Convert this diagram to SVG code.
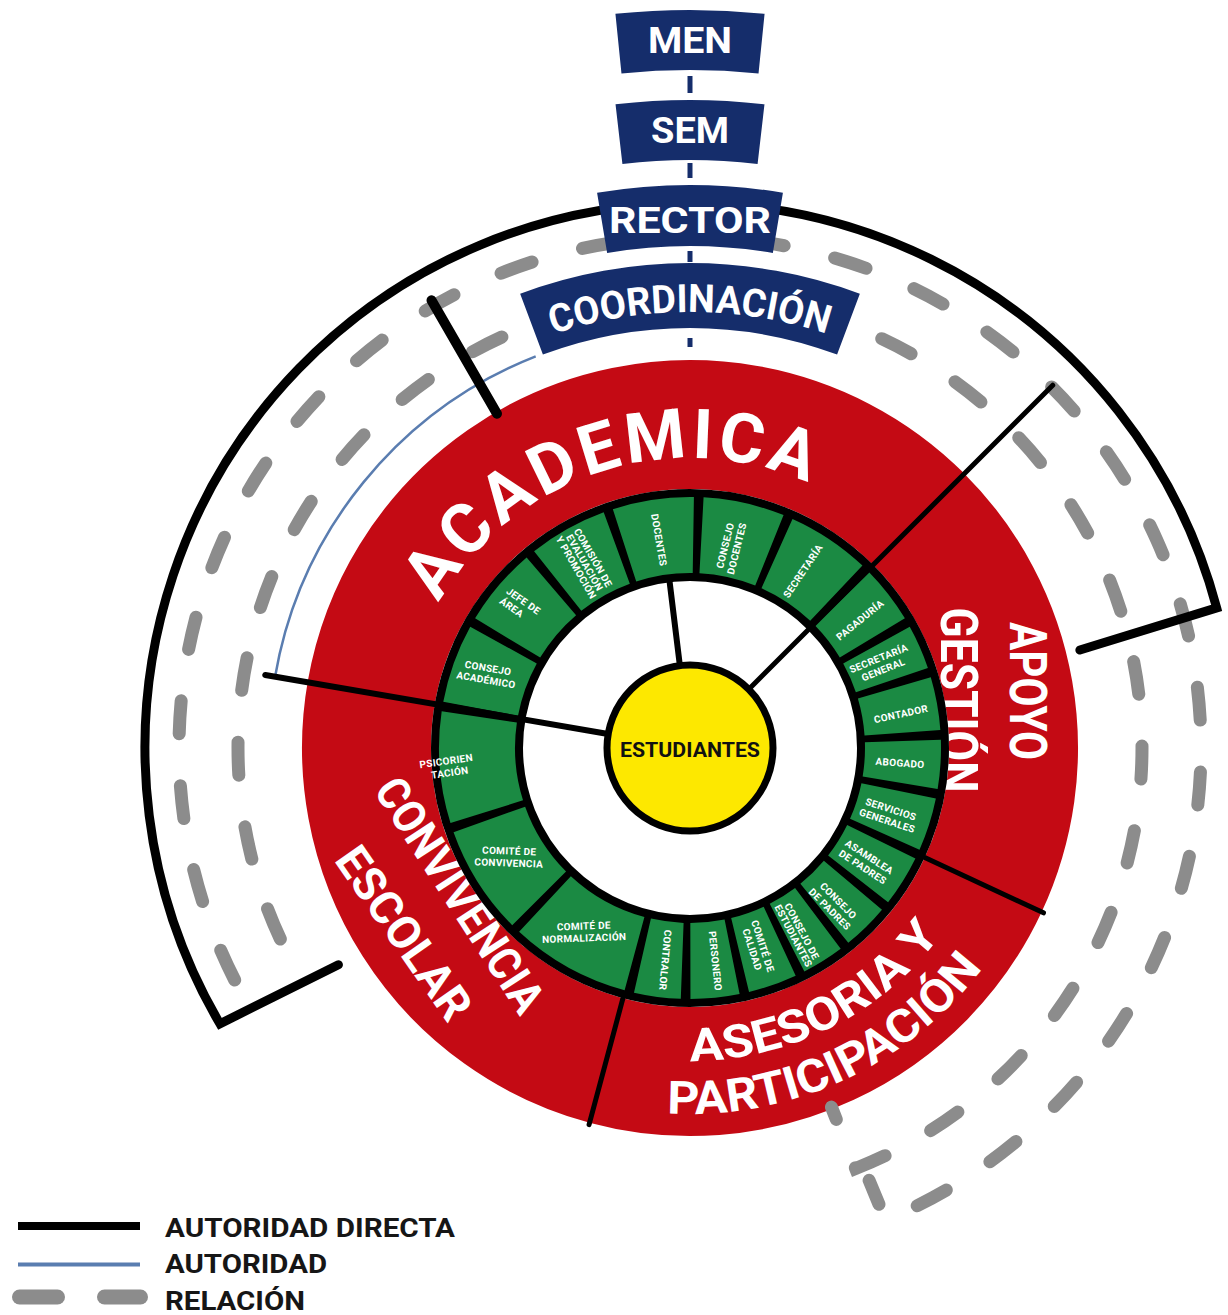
<svg xmlns="http://www.w3.org/2000/svg" xmlns:xlink="http://www.w3.org/1999/xlink" width="1228" height="1315" viewBox="0 0 1228 1315">
<style>
.t{font-family:Roboto,"DejaVu Sans","Liberation Sans",sans-serif;font-weight:700}
.rs{fill:none;stroke:#c40a14;stroke-width:129}
.gc{fill:none;stroke:#1b8a43;stroke-width:76}
.ct{fill:#fff;font-size:10px;text-anchor:middle;letter-spacing:0.3px}
.big{fill:#fff}
.box{fill:#152d6b}
.bt{fill:#fff;font-size:37px;text-anchor:middle}
.dash{fill:none;stroke:#8c8c8c;stroke-width:13;stroke-linecap:round;stroke-dasharray:33 52}
.dir{fill:none;stroke:#000;stroke-linecap:round}
.nv{stroke:#152d6b;stroke-width:5}
.lg{fill:#161616;font-size:25px}
</style>
<defs>
<path id="pAcad" d="M438.85 603 A290 290 0 0 1 807.95 483.07"/>
<path id="pAses" d="M690 1061 A313 313 0 0 0 943.22 931.98"/>
<path id="pPart" d="M667.02 1113.28 A366 366 0 0 0 984.59 965.19"/>
<path id="pCoord" d="M553.10 334.05 A436 436 0 0 1 826.90 334.05"/>
</defs>
<rect width="1228" height="1315" fill="#fff"/>

<g id="academica">
<circle class="rs" cx="690" cy="748" r="323.5" transform="rotate(-170 690 748)" stroke-dasharray="705.76 3000"/>
<text class="t big" font-size="69"><textPath href="#pAcad" textLength="425" lengthAdjust="spacing">ACADEMICA</textPath></text>
</g>
<g id="apoyo-gestion">
<circle class="rs" cx="690" cy="748" r="323.5" transform="rotate(-45 690 748)" stroke-dasharray="395.23 3000"/>
<text class="t big" font-size="52" text-anchor="middle" transform="translate(1028 691) rotate(90)" y="18.5" textLength="138" lengthAdjust="spacingAndGlyphs">APOYO</text>
<text class="t big" font-size="52" text-anchor="middle" transform="translate(959 700) rotate(90)" y="18.5" textLength="185" lengthAdjust="spacingAndGlyphs">GESTIÓN</text>
</g>
<g id="asesoria-participacion">
<circle class="rs" cx="690" cy="748" r="323.5" transform="rotate(25 690 748)" stroke-dasharray="451.69 3000"/>
<text class="t big" font-size="46"><textPath href="#pAses" textLength="290" lengthAdjust="spacingAndGlyphs">ASESORIA Y</textPath></text>
<text class="t big" font-size="46"><textPath href="#pPart" textLength="362" lengthAdjust="spacingAndGlyphs">PARTICIPACIÓN</textPath></text>
</g>
<g id="convivencia-escolar">
<circle class="rs" cx="690" cy="748" r="323.5" transform="rotate(105 690 748)" stroke-dasharray="479.92 3000"/>
<text class="t big" font-size="46" text-anchor="middle" transform="translate(460 895) rotate(57)" y="16" textLength="270" lengthAdjust="spacingAndGlyphs">CONVIVENCIA</text>
<text class="t big" font-size="46" text-anchor="middle" transform="translate(404 933) rotate(55)" y="16" textLength="200" lengthAdjust="spacingAndGlyphs">ESCOLAR</text>
</g>

<g id="green-ring-frame">
<circle cx="690" cy="748" r="213" fill="none" stroke="#000" stroke-width="92"/>
</g>

<g id="c-consejo-academico">
<circle class="gc" cx="690" cy="748" r="213" transform="rotate(-169.4 690 748)" stroke-dasharray="68.03 2000"/>
<text class="t ct" transform="translate(487 674) rotate(10)"><tspan x="0" y="-2.5">CONSEJO</tspan><tspan x="0" y="9.5">ACADÉMICO</tspan></text>
</g>
<g id="c-jefe-area">
<circle class="gc" cx="690" cy="748" r="213" transform="rotate(-148.9 690 748)" stroke-dasharray="68.03 2000"/>
<text class="t ct" transform="translate(520 606) rotate(35)"><tspan x="0" y="-2.5">JEFE DE</tspan><tspan x="-6" y="9.5">ÁREA</tspan></text>
</g>
<g id="c-comision">
<circle class="gc" cx="690" cy="748" r="213" transform="rotate(-128.4 690 748)" stroke-dasharray="68.03 2000"/>
<text class="t ct" font-size="8" transform="translate(584 563) rotate(60)"><tspan x="0" y="-7">COMISIÓN DE</tspan><tspan x="0" y="2.8">EVALUACIÓN</tspan><tspan x="0" y="12.6">Y PROMOCIÓN</tspan></text>
</g>
<g id="c-docentes">
<circle class="gc" cx="690" cy="748" r="213" transform="rotate(-107.9 690 748)" stroke-dasharray="69.89 2000"/>
<text class="t ct" transform="translate(659 540) rotate(80)" y="3.5">DOCENTES</text>
</g>
<g id="c-consejo-docentes">
<circle class="gc" cx="690" cy="748" r="213" transform="rotate(-86.9 690 748)" stroke-dasharray="69.89 2000"/>
<text class="t ct" transform="translate(731 547) rotate(-76)"><tspan x="0" y="-2.5">CONSEJO</tspan><tspan x="0" y="9.5">DOCENTES</tspan></text>
</g>
<g id="c-secretaria">
<circle class="gc" cx="690" cy="748" r="213" transform="rotate(-65.9 690 748)" stroke-dasharray="71.75 2000"/>
<text class="t ct" transform="translate(803 571) rotate(-56)" y="3.5">SECRETARÍA</text>
</g>
<g id="c-pagaduria">
<circle class="gc" cx="690" cy="748" r="213" transform="rotate(-44.4 690 748)" stroke-dasharray="49.44 2000"/>
<text class="t ct" transform="translate(860 620) rotate(-39)" y="3.5">PAGADURÍA</text>
</g>
<g id="c-secretaria-general">
<circle class="gc" cx="690" cy="748" r="213" transform="rotate(-28.9 690 748)" stroke-dasharray="38.29 2000"/>
<text class="t ct" transform="translate(881 664) rotate(-22)"><tspan x="0" y="-2.5">SECRETARÍA</tspan><tspan x="0" y="9.5">GENERAL</tspan></text>
</g>
<g id="c-contador">
<circle class="gc" cx="690" cy="748" r="213" transform="rotate(-16.4 690 748)" stroke-dasharray="45.73 2000"/>
<text class="t ct" transform="translate(901 714) rotate(-12)" y="3.5">CONTADOR</text>
</g>
<g id="c-abogado">
<circle class="gc" cx="690" cy="748" r="213" transform="rotate(-1.9 690 748)" stroke-dasharray="42.01 2000"/>
<text class="t ct" transform="translate(900 763) rotate(4)" y="3.5">ABOGADO</text>
</g>
<g id="c-servicios-generales">
<circle class="gc" cx="690" cy="748" r="213" transform="rotate(11.6 690 748)" stroke-dasharray="45.73 2000"/>
<text class="t ct" transform="translate(889 815) rotate(18)"><tspan x="0" y="-2.5">SERVICIOS</tspan><tspan x="0" y="9.5">GENERALES</tspan></text>
</g>
<g id="c-asamblea-padres">
<circle class="gc" cx="690" cy="748" r="213" transform="rotate(26.1 690 748)" stroke-dasharray="43.87 2000"/>
<text class="t ct" transform="translate(866 862) rotate(33)"><tspan x="0" y="-2.5">ASAMBLEA</tspan><tspan x="0" y="9.5">DE PADRES</tspan></text>
</g>
<g id="c-consejo-padres">
<circle class="gc" cx="690" cy="748" r="213" transform="rotate(40.1 690 748)" stroke-dasharray="40.15 2000"/>
<text class="t ct" transform="translate(834 905) rotate(45)"><tspan x="0" y="-2.5">CONSEJO</tspan><tspan x="0" y="9.5">DE PADRES</tspan></text>
</g>
<g id="c-consejo-estudiantes">
<circle class="gc" cx="690" cy="748" r="213" transform="rotate(53.1 690 748)" stroke-dasharray="36.43 2000"/>
<text class="t ct" font-size="7.5" transform="translate(797 934) rotate(62)"><tspan x="0" y="-2">CONSEJO DE</tspan><tspan x="0" y="7.5">ESTUDIANTES</tspan></text>
</g>
<g id="c-comite-calidad">
<circle class="gc" cx="690" cy="748" r="213" transform="rotate(65.1 690 748)" stroke-dasharray="42.01 2000"/>
<text class="t ct" font-size="8.5" transform="translate(757 948) rotate(72)"><tspan x="0" y="-2.5">COMITÉ DE</tspan><tspan x="0" y="8.5">CALIDAD</tspan></text>
</g>
<g id="c-personero">
<circle class="gc" cx="690" cy="748" r="213" transform="rotate(78.6 690 748)" stroke-dasharray="42.01 2000"/>
<text class="t ct" font-size="9" transform="translate(715 961) rotate(84)" y="3.2">PERSONERO</text>
</g>
<g id="c-contralor">
<circle class="gc" cx="690" cy="748" r="213" transform="rotate(92.1 690 748)" stroke-dasharray="40.15 2000"/>
<text class="t ct" font-size="9" transform="translate(665 960) rotate(95)" y="3.2">CONTRALOR</text>
</g>
<g id="c-comite-normalizacion">
<circle class="gc" cx="690" cy="748" r="213" transform="rotate(105.1 690 748)" stroke-dasharray="103.35 2000"/>
<text class="t ct" transform="translate(584 932) rotate(-2)"><tspan x="0" y="-2.5">COMITÉ DE</tspan><tspan x="0" y="9.5">NORMALIZACIÓN</tspan></text>
</g>
<g id="c-comite-convivencia">
<circle class="gc" cx="690" cy="748" r="213" transform="rotate(135.1 690 748)" stroke-dasharray="94.06 2000"/>
<text class="t ct" transform="translate(509 857) rotate(2)"><tspan x="0" y="-2.5">COMITÉ DE</tspan><tspan x="0" y="9.5">CONVIVENCIA</tspan></text>
</g>
<g id="c-psicorientacion">
<circle class="gc" cx="690" cy="748" r="213" transform="rotate(162.6 690 748)" stroke-dasharray="95.91 2000"/>
<text class="t ct" text-anchor="start" transform="translate(447 767) rotate(-8)"><tspan x="0" y="-2.5">PSICORIEN</tspan><tspan x="2" y="9.5">TACIÓN</tspan></text>
</g>

<g id="estudiantes">
<circle cx="690" cy="748" r="83" fill="#fde800" stroke="#000" stroke-width="7"/>
<text class="t" x="690" y="757" font-size="21" text-anchor="middle" fill="#111" textLength="140" lengthAdjust="spacingAndGlyphs">ESTUDIANTES</text>
</g>

<g id="connectors">
<path class="dash" d="M234.69 979.99 A511 511 0 1 1 885.55 1220.1 L869.1 1180.38"/>
<path class="dash" d="M280.35 939.02 A452 452 0 1 1 855.66 1168.55 L831.47 1107.14"/>
<path d="M535.7 356.29 A421 421 0 0 0 275.08 676.7" fill="none" stroke="#5a7db0" stroke-width="2.5"/>
<path class="dir" stroke-width="9" stroke-linejoin="miter" d="M338.4 964.7 L219.93 1023.79 A545 545 0 1 1 1216.68 607.86 L1079.89 650.06"/>
<line class="dir" stroke-width="10" x1="497" y1="413.71" x2="431.5" y2="300.26"/>
<line class="dir" stroke-width="6" x1="605.24" y1="733.44" x2="265.23" y2="675.01"/>
<line class="dir" stroke-width="5" x1="750.81" y1="687.19" x2="1052.75" y2="385.25"/>
<line class="dir" stroke-width="6" x1="679.52" y1="662.64" x2="669.65" y2="582.24"/>
<line class="dir" stroke-width="5" x1="924.73" y1="857.46" x2="1043.46" y2="912.82"/>
<line class="dir" stroke-width="5" x1="622.97" y1="998.18" x2="589.06" y2="1124.71"/>
<line class="nv" x1="690" y1="76" x2="690" y2="93"/>
<line class="nv" x1="690" y1="163" x2="690" y2="178"/>
<line class="nv" x1="690" y1="251" x2="690" y2="262"/>
<line class="nv" x1="690" y1="338" x2="690" y2="347"/>
</g>

<g id="men">
<path class="box" d="M615.42 13.78 A738 738 0 0 1 764.58 13.78 L758.52 73.47 A678 678 0 0 0 621.48 73.47 Z"/>
<text class="t bt" x="690" y="53" textLength="84" lengthAdjust="spacingAndGlyphs">MEN</text>
</g>
<g id="sem">
<path class="box" d="M615.52 104.3 A648 648 0 0 1 764.48 104.3 L757.58 163.9 A588 588 0 0 0 622.42 163.9 Z"/>
<text class="t bt" x="690" y="143" textLength="78" lengthAdjust="spacingAndGlyphs">SEM</text>
</g>
<g id="rector">
<path class="box" d="M597.08 192.72 A563 563 0 0 1 782.92 192.72 L772.85 252.9 A502 502 0 0 0 607.15 252.9 Z"/>
<text class="t bt" x="690" y="233" textLength="162" lengthAdjust="spacingAndGlyphs">RECTOR</text>
</g>
<g id="coordinacion">
<path class="box" d="M520.15 293.72 A485 485 0 0 1 859.85 293.72 L837.09 354.6 A420 420 0 0 0 542.91 354.6 Z"/>
<text class="t" fill="#fff" font-size="39"><textPath href="#pCoord" textLength="278" lengthAdjust="spacingAndGlyphs">COORDINACIÓN</textPath></text>
</g>

<g id="legend">
<line x1="18" y1="1226" x2="140" y2="1226" stroke="#000" stroke-width="8"/>
<line x1="18" y1="1264.5" x2="140" y2="1264.5" stroke="#5a7db0" stroke-width="4"/>
<line x1="19.5" y1="1297" x2="57.5" y2="1297" stroke="#8c8c8c" stroke-width="15" stroke-linecap="round"/>
<line x1="104.5" y1="1297" x2="140.5" y2="1297" stroke="#8c8c8c" stroke-width="15" stroke-linecap="round"/>
<text class="t lg" x="165" y="1237" textLength="290" lengthAdjust="spacingAndGlyphs">AUTORIDAD DIRECTA</text>
<text class="t lg" x="165" y="1273" textLength="162" lengthAdjust="spacingAndGlyphs">AUTORIDAD</text>
<text class="t lg" x="165" y="1310" textLength="140" lengthAdjust="spacingAndGlyphs">RELACIÓN</text>
</g>
</svg>
